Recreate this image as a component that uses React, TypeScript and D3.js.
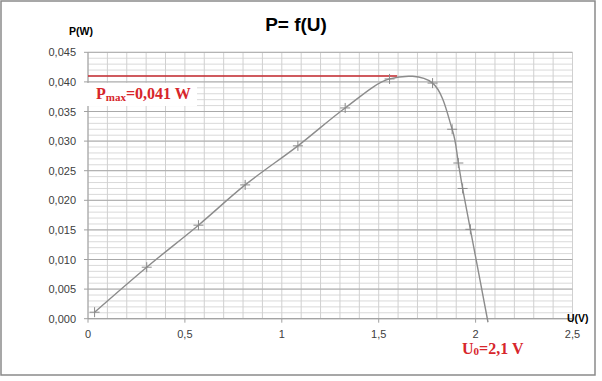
import React from "react";
import * as d3 from "d3";

const U_VALUES = [0.034, 0.303, 0.57, 0.811, 1.083, 1.327, 1.556, 1.778, 1.879, 1.911, 1.933, 1.973, 2.064];
const P_VALUES = [0.0011, 0.0087, 0.0158, 0.0226, 0.0292, 0.0356, 0.0405, 0.0398, 0.032, 0.0263, 0.022, 0.0151, -0.0006];
const MARKER_COUNT = 12; // last point has no visible marker
const X_TICKS = [0, 0.5, 1, 1.5, 2, 2.5];
const X_TICK_LABELS = ["0", "0,5", "1", "1,5", "2", "2,5"];
const Y_TICKS = [0, 0.005, 0.01, 0.015, 0.02, 0.025, 0.03, 0.035, 0.04, 0.045];
const Y_TICK_LABELS = ["0,000", "0,005", "0,010", "0,015", "0,020", "0,025", "0,030", "0,035", "0,040", "0,045"];
const PMAX = 0.041;
const PMAX_U_END = 1.595;

const W = 602;
const H = 381;

export default function App() {
  const x = d3.scaleLinear().domain([0, 2.5]).range([88, 572.5]);
  const y = d3.scaleLinear().domain([0, 0.045]).range([318.7, 52.3]);

  const pts: [number, number][] = U_VALUES.map((u, i) => [u, P_VALUES[i]]);
  const line = d3
    .line<[number, number]>()
    .x((d) => x(d[0]))
    .y((d) => y(d[1]))
    .curve(d3.curveCatmullRom.alpha(0));

  const vGrid = d3.range(0, 26).map((i) => i / 10);
  const hMinor = d3.range(0, 46).map((i) => i / 1000);

  return (
    <div style={{ position: "absolute", left: 0, top: 0 }}>
      <svg width={W} height={H} style={{ display: "block", background: "#fff" }}>
        <rect x={0} y={0} width={W} height={H} fill="#fff" />
        <rect x={1} y={1} width={594} height={374} fill="#fff" stroke="#8a8a8a" strokeWidth={1.5} />

        {/* minor horizontal grid */}
        {hMinor.map((v, i) => (
          <line key={"hm" + i} x1={x(0)} x2={x(2.5)} y1={y(v)} y2={y(v)} stroke="#d9d9d9" strokeWidth={1} />
        ))}
        {/* vertical grid */}
        {vGrid.map((v, i) => (
          <line key={"vg" + i} x1={x(v)} x2={x(v)} y1={y(0)} y2={y(0.045)} stroke="#d0d0d0" strokeWidth={1} />
        ))}
        {/* major horizontal grid */}
        {Y_TICKS.map((v, i) => (
          <line key={"hM" + i} x1={x(0)} x2={x(2.5)} y1={y(v)} y2={y(v)} stroke="#a9a9a9" strokeWidth={1} />
        ))}

        {/* axes */}
        <line x1={x(0)} x2={x(0)} y1={y(0)} y2={y(0.045)} stroke="#a0a0a0" strokeWidth={1} />
        <line x1={x(0)} x2={x(2.5)} y1={y(0)} y2={y(0)} stroke="#a0a0a0" strokeWidth={1} />
        {Y_TICKS.map((v, i) => (
          <line key={"yt" + i} x1={x(0) - 4} x2={x(0)} y1={y(v)} y2={y(v)} stroke="#a0a0a0" strokeWidth={1} />
        ))}
        {X_TICKS.map((v, i) => (
          <line key={"xt" + i} x1={x(v)} x2={x(v)} y1={y(0)} y2={y(0) + 4} stroke="#a0a0a0" strokeWidth={1} />
        ))}

        {/* tick labels */}
        {Y_TICKS.map((v, i) => (
          <text
            key={"yl" + i}
            x={76}
            y={y(v) + 4}
            textAnchor="end"
            fontFamily="'Liberation Sans', Arial, sans-serif"
            fontSize={11}
            fill="#404040"
          >
            {Y_TICK_LABELS[i]}
          </text>
        ))}
        {X_TICKS.map((v, i) => (
          <text
            key={"xl" + i}
            x={x(v)}
            y={338.3}
            textAnchor="middle"
            fontFamily="'Liberation Sans', Arial, sans-serif"
            fontSize={11}
            fill="#404040"
          >
            {X_TICK_LABELS[i]}
          </text>
        ))}

        {/* Pmax line */}
        <line x1={x(0)} x2={x(PMAX_U_END)} y1={y(PMAX)} y2={y(PMAX)} stroke="#c62a2f" strokeWidth={1.3} />

        {/* curve */}
        <path d={line(pts) || ""} fill="none" stroke="#8c8c8c" strokeWidth={1.4} />
        {pts.slice(0, MARKER_COUNT).map((d, i) => (
          <g key={"m" + i} stroke="#8a8a8a" strokeWidth={1}>
            <line x1={x(d[0]) - 5} x2={x(d[0]) + 5} y1={y(d[1])} y2={y(d[1])} />
            <line x1={x(d[0])} x2={x(d[0])} y1={y(d[1]) - 5} y2={y(d[1]) + 5} />
          </g>
        ))}

        {/* Pmax label */}
        <rect x={87} y={83} width={110} height={23} fill="#fff" />
        <text x={96} y={99} fontFamily="'Liberation Serif', 'Times New Roman', serif" fontWeight="bold" fill="#d7262b" fontSize={16}>
          P
          <tspan fontSize={11} dy={1.5}>max</tspan>
          <tspan dy={-1.5}>=0,041 W</tspan>
        </text>

        {/* U0 label */}
        <text x={462} y={354.3} fontFamily="'Liberation Serif', 'Times New Roman', serif" fontWeight="bold" fill="#d7262b" fontSize={16}>
          U
          <tspan fontSize={11} dy={1}>0</tspan>
          <tspan dy={-1}>=2,1 V</tspan>
        </text>

        {/* title */}
        <text x={296} y={31} textAnchor="middle" fontFamily="'Liberation Sans', Arial, sans-serif" fontWeight="bold" fontSize={19} fill="#000">
          P= f(U)
        </text>
        <text x={69} y={35} fontFamily="'Liberation Sans', Arial, sans-serif" fontWeight="bold" fontSize={10.5} fill="#000">
          P(W)
        </text>
        <text x={567} y={322} fontFamily="'Liberation Sans', Arial, sans-serif" fontWeight="bold" fontSize={10.5} fill="#000">
          U(V)
        </text>
      </svg>
    </div>
  );
}
